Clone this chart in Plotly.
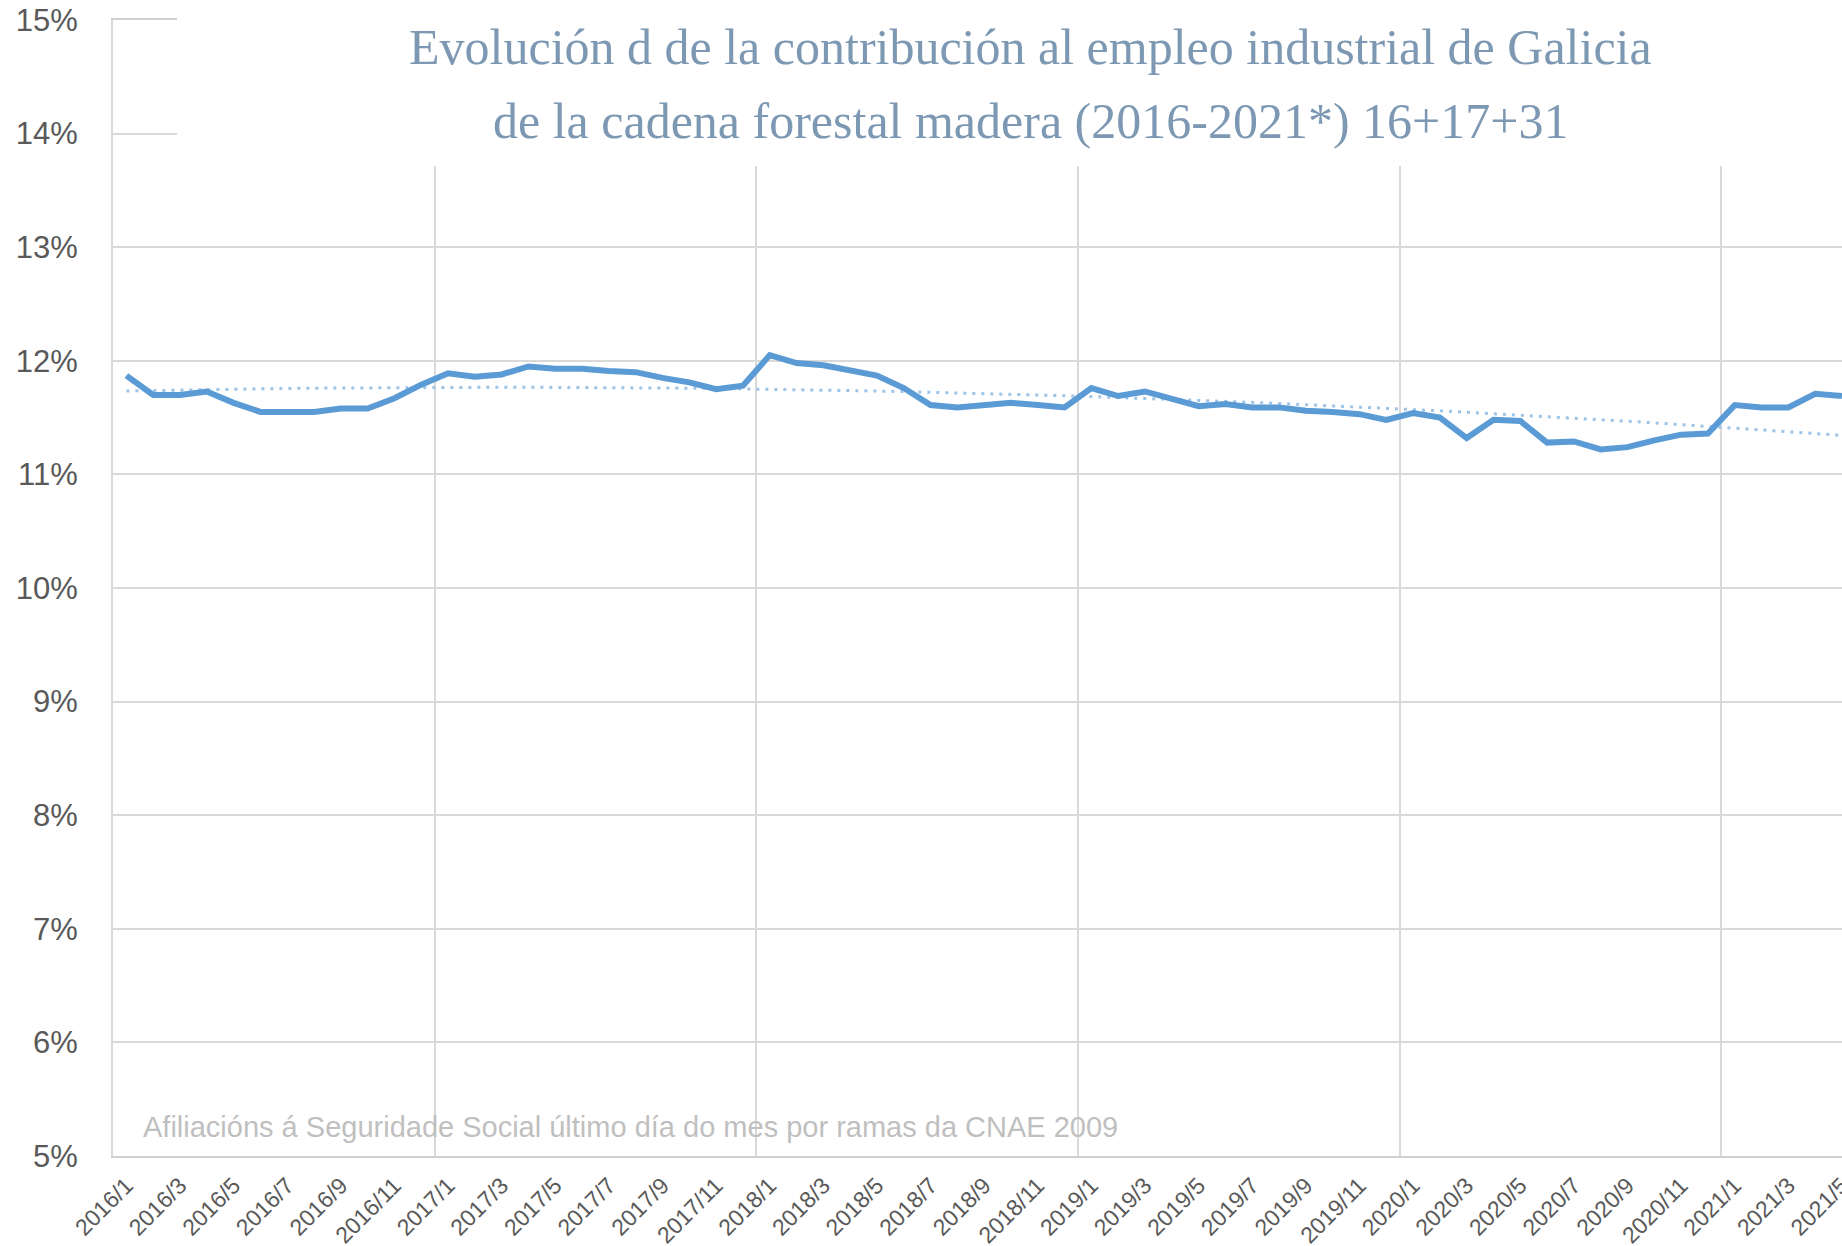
import numpy as np
import plotly.graph_objects as go

# ---- data ----
months = [f"{y}/{m}" for y in range(2016, 2022) for m in range(1, 13)][:65]
share_pct = [
    11.87, 11.70, 11.70, 11.73, 11.63, 11.55, 11.55, 11.55, 11.58, 11.58, 11.67, 11.79,  # 2016
    11.89, 11.86, 11.88, 11.95, 11.93, 11.93, 11.91, 11.90, 11.85, 11.81, 11.75, 11.78,  # 2017
    12.05, 11.98, 11.96, 11.91, 11.87, 11.76, 11.61, 11.59, 11.61, 11.63, 11.61, 11.59,  # 2018
    11.76, 11.69, 11.73, 11.66, 11.60, 11.62, 11.59, 11.59, 11.56, 11.55, 11.53, 11.48,  # 2019
    11.54, 11.50, 11.32, 11.48, 11.47, 11.28, 11.29, 11.22, 11.24, 11.30, 11.35, 11.36,  # 2020
    11.61, 11.59, 11.59, 11.71, 11.69,                                                    # 2021
]
y_ticks = list(range(5, 16))
title_line1 = "Evolución d de la contribución al empleo industrial de Galicia"
title_line2 = "de la cadena forestal madera (2016-2021*) 16+17+31"
source_note = "Afiliacións á Seguridade Social último día do mes por ramas da CNAE 2009"

# ---- derived ----
idx = np.arange(len(share_pct))
coef = np.polyfit(idx, share_pct, 2)           # polynomial (order 2) trendline
trend = np.polyval(coef, idx)

# figure slightly wider than the window so the plot is cut at the right edge
W, H = 1850, 1246
ML, MR, MT, MB = 113, 0, 20, 90
PW, PH = W - ML - MR, H - MT - MB
X_END = len(months) - 1 + 0.3

def px_x(px):
    return (px - ML) / PW

def px_y(py):
    return 1 - (py - MT) / PH

fig = go.Figure()
fig.add_trace(go.Scatter(
    x=idx, y=trend, mode="lines",
    line=dict(color="#9DC3E6", width=3, dash="3px,6px"),
    hoverinfo="skip", showlegend=False,
))
fig.add_trace(go.Scatter(
    x=idx, y=share_pct, mode="lines",
    line=dict(color="#5B9BD5", width=6),
    customdata=months, hovertemplate="%{customdata}: %{y:.2f}%<extra></extra>",
    showlegend=False,
))

tick_idx = list(range(0, len(months), 2))
fig.update_xaxes(
    range=[-0.5, X_END],
    tickmode="array", tickvals=tick_idx, ticktext=[months[i] for i in tick_idx],
    tickangle=-45, tickfont=dict(family="Liberation Sans", size=23, color="#595959"),
    ticks="outside", ticklen=5, tickcolor="rgba(0,0,0,0)",
    ticklabeloverflow="allow",
    showgrid=False, zeroline=False,
    showline=True, linecolor="#CFCFCF", linewidth=2, mirror=True,
    minor=dict(tickmode="linear", tick0=-0.5, dtick=12, showgrid=True,
               gridcolor="#D9D9D9", gridwidth=2, ticks=""),
    automargin=False,
)
fig.update_yaxes(
    range=[5, 15], tickmode="array", tickvals=y_ticks,
    ticktext=[f"{v}%" for v in y_ticks],
    tickfont=dict(family="Liberation Sans", size=31, color="#595959"),
    ticks="outside", ticklen=27, tickcolor="rgba(0,0,0,0)",
    showgrid=True, gridcolor="#D9D9D9", gridwidth=2, zeroline=False,
    showline=True, linecolor="#D9D9D9", linewidth=2,
    automargin=False,
)

# white title box covering the grid at the top
fig.add_shape(type="rect", xref="paper", yref="paper",
              x0=px_x(177), x1=1.02, y0=px_y(166), y1=1.1,
              fillcolor="white", line=dict(width=0), layer="above")

title_font = dict(family="Liberation Serif", size=50, color="#7D98B3")
fig.add_annotation(text=title_line1, xref="paper", yref="paper",
                   x=px_x(1030), y=px_y(47), xanchor="center", yanchor="middle",
                   showarrow=False, font=title_font)
fig.add_annotation(text=title_line2, xref="paper", yref="paper",
                   x=px_x(1030), y=px_y(121), xanchor="center", yanchor="middle",
                   showarrow=False, font=title_font)
fig.add_annotation(text=source_note, xref="paper", yref="paper",
                   x=px_x(141), y=px_y(1127), xanchor="left", yanchor="middle",
                   showarrow=False,
                   font=dict(family="Liberation Sans", size=29, color="#BFBFBF"))

fig.update_layout(
    width=W, height=H,
    margin=dict(l=ML, r=MR, t=MT, b=MB, autoexpand=False),
    paper_bgcolor="white", plot_bgcolor="white",
    showlegend=False,
)

fig.write_html("out.html", config={"displayModeBar": False},
               post_script="document.body.style.margin='0';document.body.style.overflow='hidden';")
